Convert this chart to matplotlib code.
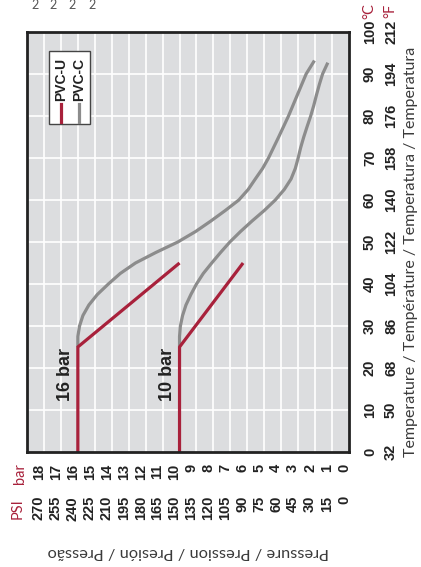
import matplotlib
matplotlib.use("Agg")
import matplotlib.pyplot as plt
import matplotlib.transforms as mtransforms
from matplotlib.patches import Rectangle
from matplotlib.lines import Line2D

# data (temperature in degC, pressure in bar)
pvcu_16_t = [0, 25, 45]
pvcu_16_p = [16, 16, 10]
pvcu_10_t = [0, 25, 45]
pvcu_10_p = [10, 10, 6.25]

pvcc_16_t = [25, 27.5, 30, 32.5, 35, 37.5, 40, 42.5, 45, 47.5, 50, 52.5, 55, 57.5, 60, 62.5, 65, 67.5, 70, 75, 80, 85, 90, 93.2]
pvcc_16_p = [16, 16, 15.9, 15.7, 15.35, 14.85, 14.2, 13.5, 12.6, 11.4, 10.1, 9.05, 8.15, 7.3, 6.5, 5.95, 5.53, 5.1, 4.75, 4.15, 3.57, 3.05, 2.53, 2.04]
pvcc_10_t = [25, 27.5, 30, 32.5, 35, 37.5, 40, 42.5, 45, 47.5, 50, 52.5, 55, 57.5, 60, 62.5, 65, 67.5, 70,
             72.5, 75, 77.5, 80, 82.5, 85, 87.5, 90, 92.7]
pvcc_10_p = [10, 10, 9.95, 9.82, 9.62, 9.33, 9.0, 8.6, 8.1, 7.58, 7.03, 6.4, 5.72, 5.0, 4.35, 3.82, 3.42, 3.17, 3.0,
             2.85, 2.67, 2.47, 2.26, 2.08, 1.92, 1.75, 1.56, 1.25]

bar_ticks = list(range(18, -1, -1))
psi_labels = [str(b * 15) for b in bar_ticks]
temp_c = list(range(0, 101, 10))
temp_f = [32, 50, 68, 86, 104, 122, 140, 158, 176, 194, 212]

red = "#a8213b"
grey = "#8c8c8c"
dark = "#222222"

W, H = 421, 567
fig = plt.figure(figsize=(W / 100, H / 100), dpi=100)
ax = fig.add_axes([27 / W, 1 - 452 / H, (349 - 27) / W, (452 - 32) / H])
ax.set_xlim(19, 0)
ax.set_ylim(0, 100)
ax.set_facecolor("#dcdddf")
ax.set_xticks(range(1, 19))
ax.set_yticks(range(10, 100, 10))
ax.grid(color="white", lw=1.2)
ax.tick_params(length=0, labelbottom=False, labelleft=False)
for s in ax.spines.values():
    s.set_color(dark)
    s.set_linewidth(2)

ax.plot(pvcc_16_p, pvcc_16_t, color=grey, lw=2.3, solid_capstyle="butt", solid_joinstyle="round")
ax.plot(pvcc_10_p, pvcc_10_t, color=grey, lw=2.3, solid_capstyle="butt", solid_joinstyle="round")
ax.plot(pvcu_16_p, pvcu_16_t, color=red, lw=2.3, solid_capstyle="butt")
ax.plot(pvcu_10_p, pvcu_10_t, color=red, lw=2.3, solid_capstyle="butt")

bold = dict(family="Liberation Sans", weight="bold", color=dark)
thin = dict(family="Lato", color="#3a3a3a")

ax.text(16.25, 24.8, "16 bar", rotation=90, ha="right", va="top", fontsize=13, **bold)
ax.text(10.2, 24.8, "10 bar", rotation=90, ha="right", va="top", fontsize=13, **bold)

# pressure tick labels (two rows)
tr_bar = mtransforms.offset_copy(ax.get_xaxis_transform(), fig, x=-5, y=-12, units="dots")
tr_psi = mtransforms.offset_copy(ax.get_xaxis_transform(), fig, x=-5, y=-44, units="dots")
for b, p in zip(bar_ticks, psi_labels):
    ax.text(b, 0, str(b), transform=tr_bar, rotation=90, ha="center", va="top", fontsize=10.5, **bold)
    ax.text(b, 0, p, transform=tr_psi, rotation=90, ha="center", va="top", fontsize=10.5, **bold)

# temperature tick labels (two columns)
tr_c = mtransforms.offset_copy(ax.get_yaxis_transform(), fig, x=14, y=0, units="dots")
tr_f = mtransforms.offset_copy(ax.get_yaxis_transform(), fig, x=35, y=0, units="dots")
for c, f in zip(temp_c, temp_f):
    ax.text(1, c, str(c), transform=tr_c, rotation=90, ha="left", va="center", fontsize=10.5, **bold)
    ax.text(1, c, str(f), transform=tr_f, rotation=90, ha="left", va="center", fontsize=10.5, **bold)

# units
fig.text(362 / W, 1 - 11 / H, "°C", rotation=90, ha="left", va="center", fontsize=10.5, family="Lato", color=red)
fig.text(383 / W, 1 - 11 / H, "°F", rotation=90, ha="left", va="center", fontsize=10.5, family="Lato", color=red)
fig.text(20 / W, 1 - 463 / H, "bar", rotation=90, ha="center", va="top", fontsize=10.5, family="Lato", color=red)
fig.text(18 / W, 1 - 498 / H, "PSI", rotation=90, ha="center", va="top", fontsize=10.5, family="Lato", color=red)

# axis titles
fig.text(411 / W, 1 - 457 / H, "Temperature / Température / Temperatura / Temperatura",
         rotation=90, ha="center", va="bottom", fontsize=11.5, **thin)
fig.text(188 / W, 1 - 552 / H, "Pressure / Pression / Presión / Pressão",
         rotation=180, ha="center", va="center", fontsize=11.8, **thin)

# cut-off text at the top edge
for xp in [35, 53, 72, 92]:
    fig.text(xp / W, 1 - 5 / H, "2", ha="center", va="center", fontsize=9, family="Lato", color="#555555")

# legend drawn by hand so it can be rotated
fig.patches.append(Rectangle((49 / W, 1 - 124 / H), 41 / W, 73 / H, transform=fig.transFigure,
                             facecolor="white", edgecolor="#444444", lw=1))
fig.lines.append(Line2D([61 / W, 61 / W], [1 - 122 / H, 1 - 104 / H], transform=fig.transFigure, color=red, lw=2.3))
fig.lines.append(Line2D([79 / W, 79 / W], [1 - 122 / H, 1 - 104 / H], transform=fig.transFigure, color=grey, lw=2.3))
fig.text(61 / W, 1 - 101 / H, "PVC-U", rotation=90, ha="center", va="bottom", fontsize=10, **bold)
fig.text(79 / W, 1 - 101 / H, "PVC-C", rotation=90, ha="center", va="bottom", fontsize=10, **bold)

fig.savefig("out.png", dpi=100)
